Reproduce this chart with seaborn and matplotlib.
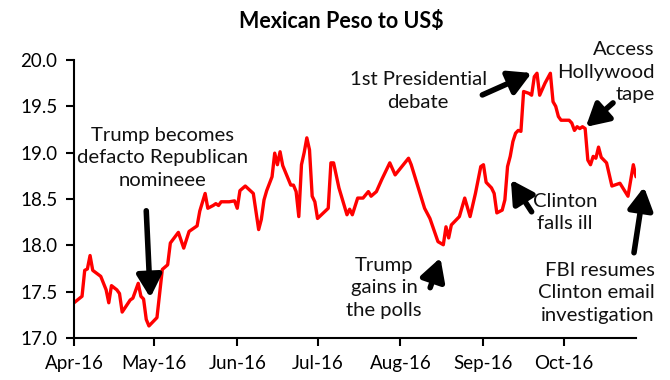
import matplotlib
matplotlib.use("Agg")
import matplotlib.pyplot as plt
import seaborn as sns
import pandas as pd

# ---- data ----
dates = [
    "2016-04-01", "2016-04-04", "2016-04-05", "2016-04-06", "2016-04-07", "2016-04-08",
    "2016-04-11", "2016-04-13", "2016-04-14", "2016-04-15", "2016-04-17", "2016-04-18",
    "2016-04-19", "2016-04-22", "2016-04-23", "2016-04-25", "2016-04-26", "2016-04-27",
    "2016-04-28", "2016-04-29",
    "2016-05-02", "2016-05-04", "2016-05-06", "2016-05-07", "2016-05-10", "2016-05-12",
    "2016-05-14", "2016-05-17", "2016-05-18", "2016-05-20", "2016-05-21", "2016-05-23",
    "2016-05-24", "2016-05-25", "2016-05-26", "2016-05-29", "2016-05-31",
    "2016-06-01", "2016-06-02", "2016-06-04", "2016-06-07", "2016-06-09", "2016-06-10",
    "2016-06-11", "2016-06-12", "2016-06-14", "2016-06-15", "2016-06-16", "2016-06-17",
    "2016-06-18", "2016-06-21", "2016-06-22", "2016-06-23", "2016-06-24", "2016-06-25",
    "2016-06-26", "2016-06-27", "2016-06-28", "2016-06-29", "2016-06-30",
    "2016-07-01", "2016-07-05", "2016-07-06", "2016-07-07", "2016-07-09", "2016-07-12",
    "2016-07-13", "2016-07-14", "2016-07-16", "2016-07-18", "2016-07-20", "2016-07-21",
    "2016-07-23", "2016-07-25", "2016-07-27", "2016-07-28", "2016-07-30",
    "2016-08-04", "2016-08-05", "2016-08-10", "2016-08-12", "2016-08-15", "2016-08-17",
    "2016-08-18", "2016-08-19", "2016-08-20", "2016-08-22", "2016-08-23", "2016-08-25",
    "2016-08-27", "2016-08-29", "2016-08-31",
    "2016-09-01", "2016-09-02", "2016-09-04", "2016-09-05", "2016-09-06", "2016-09-08",
    "2016-09-09", "2016-09-10", "2016-09-11", "2016-09-12", "2016-09-13", "2016-09-14",
    "2016-09-15", "2016-09-16", "2016-09-18", "2016-09-19", "2016-09-20", "2016-09-21",
    "2016-09-22", "2016-09-24", "2016-09-26", "2016-09-27", "2016-09-28", "2016-09-29",
    "2016-09-30",
    "2016-10-03", "2016-10-04", "2016-10-05", "2016-10-06", "2016-10-07", "2016-10-08",
    "2016-10-09", "2016-10-10", "2016-10-11", "2016-10-12", "2016-10-13", "2016-10-14",
    "2016-10-15", "2016-10-17", "2016-10-19", "2016-10-20", "2016-10-22", "2016-10-25",
    "2016-10-27", "2016-10-28",
]
mxn_per_usd = [
    17.38, 17.45, 17.73, 17.745, 17.89, 17.73,
    17.665, 17.52, 17.38, 17.565, 17.52, 17.48,
    17.28, 17.41, 17.43, 17.59, 17.45, 17.42,
    17.20, 17.13,
    17.22, 17.74, 17.79, 18.025, 18.14, 17.97,
    18.15, 18.21, 18.37, 18.56, 18.40, 18.43,
    18.45, 18.43, 18.47, 18.47, 18.48,
    18.40, 18.59, 18.64, 18.56, 18.17, 18.28,
    18.49, 18.59, 18.74, 18.995, 18.87, 19.01,
    18.86, 18.65, 18.65, 18.58, 18.31, 18.87,
    19.00, 19.16, 19.03, 18.53, 18.47,
    18.29, 18.40, 18.89, 18.89, 18.62, 18.33,
    18.39, 18.33, 18.51, 18.51, 18.58, 18.53,
    18.58, 18.71, 18.83, 18.89, 18.76,
    18.94, 18.87, 18.40, 18.29, 18.04, 18.006,
    18.20, 18.08, 18.22, 18.28, 18.31, 18.51,
    18.31, 18.56, 18.85,
    18.87, 18.68, 18.62, 18.56, 18.35, 18.38,
    18.49, 18.85, 18.96, 19.12, 19.21, 19.24,
    19.23, 19.66, 19.64, 19.62, 19.82, 19.857,
    19.62, 19.75, 19.857, 19.55, 19.50, 19.39,
    19.35,
    19.35, 19.32, 19.24, 19.28, 19.26, 19.28,
    19.26, 18.92, 18.87, 18.96, 18.94, 19.06,
    18.95, 18.89, 18.64, 18.65, 18.67, 18.53,
    18.87, 18.74,
]
month_ticks = ["2016-04-01", "2016-05-01", "2016-06-01", "2016-07-01",
               "2016-08-01", "2016-09-01", "2016-10-01"]
month_labels = ["Apr-16", "May-16", "Jun-16", "Jul-16", "Aug-16", "Sep-16", "Oct-16"]
y_ticks = [17.0, 17.5, 18.0, 18.5, 19.0, 19.5, 20.0]
title = "Mexican Peso to US$"

# annotations: text, text anchor (date, value), alignment, arrow tail, arrow head
notes = [
    ("Trump becomes\ndefacto Republican\nnomineee", ("2016-05-04", 18.944), "center",
     ("2016-04-28", 18.373), ("2016-04-29 12:00", 17.435)),
    ("1st Presidential\ndebate", ("2016-08-07 14:00", 19.666), "center",
     ("2016-08-31 14:00", 19.623), ("2016-09-19", 19.86)),
    ("Access\nHollywood\ntape", ("2016-11-04", 19.87), "right",
     ("2016-10-19 10:00", 19.537), ("2016-10-09 06:00", 19.278)),
    ("Clinton\nfalls ill", ("2016-10-01 10:00", 18.351), "center",
     ("2016-09-19", 18.362), ("2016-09-11 06:00", 18.707)),
    ("Trump\ngains in\nthe polls", ("2016-07-25 22:00", 17.543), "center",
     ("2016-08-12 02:00", 17.543), ("2016-08-15 22:00", 17.866)),
    ("FBI resumes\nClinton email\ninvestigation", ("2016-11-04", 17.489), "right",
     ("2016-10-27 06:00", 17.92), ("2016-10-31", 18.63)),
]

df = pd.DataFrame({"date": pd.to_datetime(dates), "rate": mxn_per_usd})

sns.set_theme(style="ticks")
FONT = ["Lato", "DejaVu Sans"]
plt.rcParams["font.family"] = FONT

fig = plt.figure(figsize=(6.7, 3.8), dpi=100)
ax = fig.add_axes([74 / 670, 1 - 338 / 380, (636 - 74) / 670, (338 - 60) / 380])

sns.lineplot(data=df, x="date", y="rate", color="#ff0000", linewidth=2.4, ax=ax)

ax.set_xlim(df["date"].iloc[0], df["date"].iloc[-1])
ax.set_ylim(17.0, 20.0)
ax.set_yticks(y_ticks)
ax.set_yticklabels([f"{v:.1f}" for v in y_ticks])
ax.set_xticks(pd.to_datetime(month_ticks))
ax.set_xticklabels(month_labels)
ax.set_xlabel("")
ax.set_ylabel("")

for s in ("top", "right"):
    ax.spines[s].set_visible(False)
for s in ("left", "bottom"):
    ax.spines[s].set_color("black")
    ax.spines[s].set_linewidth(1.5)
ax.tick_params(axis="both", direction="out", length=6, width=1.5, color="black",
               labelsize=13.5, labelcolor="black", pad=6)

for text, (tx, ty), ha, (ax0, ay0), (ax1, ay1) in notes:
    ax.text(pd.Timestamp(tx), ty, text, ha=ha, va="center", fontsize=14.6,
            color="#111111", linespacing=1.38, clip_on=False)
    ax.annotate("", xy=(pd.Timestamp(ax1), ay1), xytext=(pd.Timestamp(ax0), ay0),
                arrowprops=dict(arrowstyle="-|>,head_length=0.9,head_width=0.5",
                                lw=4, color="black", shrinkA=0, shrinkB=0,
                                mutation_scale=15),
                annotation_clip=False)

fig.text(341 / 670, 1 - 22 / 380, title, ha="center", va="center",
         fontsize=15.5, fontweight="bold", color="black")

fig.savefig("out.png", dpi=100)
